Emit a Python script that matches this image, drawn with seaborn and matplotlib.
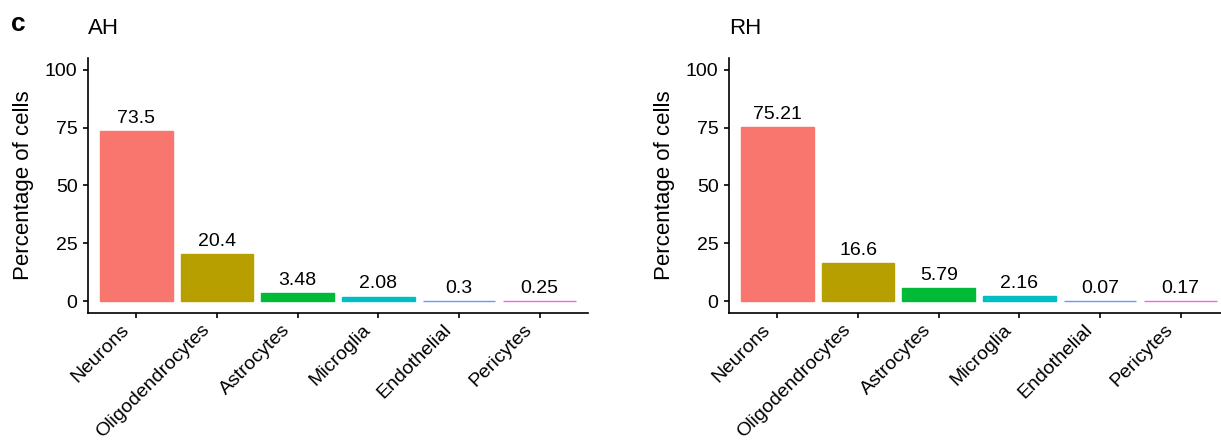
import numpy as np
import pandas as pd
import matplotlib
matplotlib.use("Agg")
import matplotlib.pyplot as plt
import matplotlib.transforms as mtransforms
import seaborn as sns

# -----------------------------
# DATA
# -----------------------------
cell_types = ["Neurons", "Oligodendrocytes", "Astrocytes", "Microglia", "Endothelial", "Pericytes"]
ah_values = [73.5, 20.4, 3.48, 2.08, 0.3, 0.25]
rh_values = [75.21, 16.6, 5.79, 2.16, 0.07, 0.17]
ah_labels = ["73.5", "20.4", "3.48", "2.08", "0.3", "0.25"]
rh_labels = ["75.21", "16.6", "5.79", "2.16", "0.07", "0.17"]
y_ticks = [0, 25, 50, 75, 100]

# ggplot default hue palette for 6 groups
palette = ["#F8766D", "#B79F00", "#00BA38", "#00BFC4", "#619CFF", "#F564E3"]

sns.set_theme(style="ticks")
plt.rcParams["font.family"] = ["Liberation Sans", "DejaVu Sans"]
plt.rcParams["axes.linewidth"] = 1.2
plt.rcParams["xtick.major.width"] = 1.2
plt.rcParams["ytick.major.width"] = 1.2
plt.rcParams["xtick.major.size"] = 3.5
plt.rcParams["ytick.major.size"] = 3.5

fig = plt.figure(figsize=(12.21, 4.40), dpi=100)
W, H = 1221, 440
ax_left = fig.add_axes([88 / W, (H - 313) / H, 500 / W, 255 / H])
ax_right = fig.add_axes([729 / W, (H - 313) / H, 500 / W, 255 / H])

# small leftward nudge for the rotated category labels
nudge = mtransforms.ScaledTranslation(-0.04, 0, fig.dpi_scale_trans)


def draw_panel(ax, values, labels, title):
    df = pd.DataFrame({"cell": cell_types, "pct": values})
    sns.barplot(data=df, x="cell", y="pct", hue="cell", palette=palette,
                order=cell_types, hue_order=cell_types, width=0.9,
                legend=False, saturation=1, ax=ax)
    # outline each bar in its own colour so the tiny ones still show as a line
    for patch in ax.patches:
        patch.set_edgecolor(patch.get_facecolor())
        patch.set_linewidth(1.0)
    for container, lab in zip(ax.containers, labels):
        ax.bar_label(container, labels=[lab], padding=3, fontsize=14, color="black")
    ax.set_xlim(-0.6, len(cell_types) - 0.4)
    ax.set_ylim(-5, 105)
    ax.set_yticks(y_ticks)
    ax.set_xlabel("")
    ax.set_ylabel("Percentage of cells", fontsize=16, labelpad=8, color="black")
    ax.set_title(title, loc="left", fontsize=16, pad=17, color="black")
    ax.tick_params(axis="y", labelsize=14, pad=4, colors="black")
    ax.tick_params(axis="x", labelsize=14, pad=2.5, colors="black")
    for lab in ax.get_xticklabels():
        lab.set_rotation(45)
        lab.set_ha("right")
        lab.set_va("top")
        lab.set_transform(lab.get_transform() + nudge)
    for s in ["left", "bottom"]:
        ax.spines[s].set_color("black")
    sns.despine(ax=ax)


draw_panel(ax_left, ah_values, ah_labels, "AH")
draw_panel(ax_right, rh_values, rh_labels, "RH")

fig.text(11 / W, (H - 31) / H, "c", fontsize=19, fontweight="bold", color="black")

plt.savefig("out.png", dpi=100)
plt.close()
